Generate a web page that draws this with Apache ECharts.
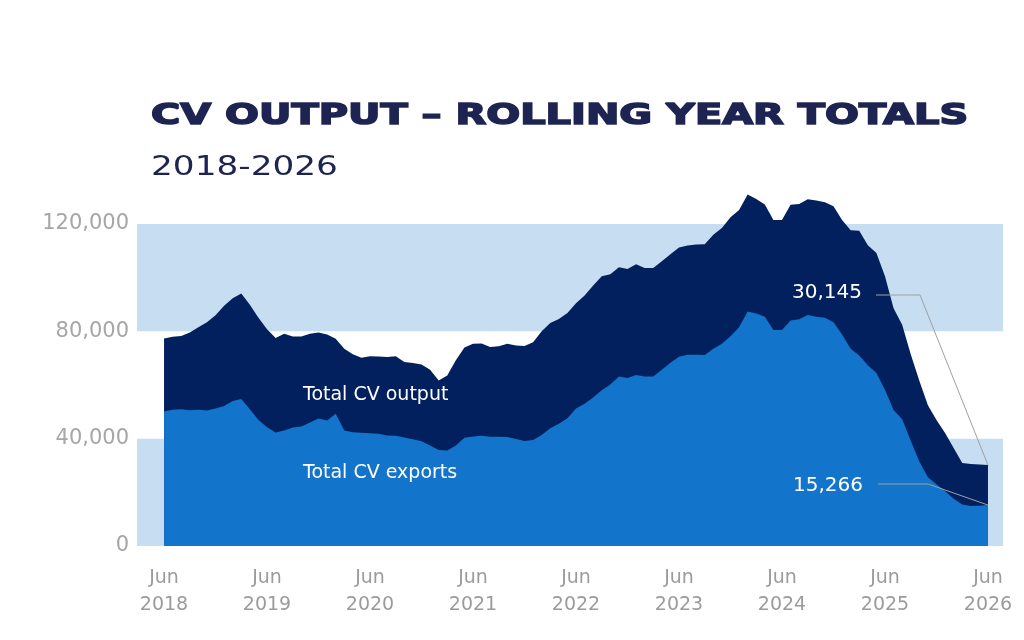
<!DOCTYPE html>
<html>
<head>
<meta charset="utf-8">
<script src="https://cdn.jsdelivr.net/npm/echarts@6/dist/echarts.min.js"></script>
<style>
  html, body { margin: 0; padding: 0; background: #ffffff; }
  #main { width: 1024px; height: 640px; }
</style>
</head>
<body>
<div id="main"></div>
<script>
// x ticks: one per year, each June
var tickMonth = "Jun";
var tickYears = [2018, 2019, 2020, 2021, 2022, 2023, 2024, 2025, 2026];

// rolling year totals, monthly Jun 2018 .. Jun 2026
var cvOutput = [
  77300, 78000, 78300, 79600, 81500, 83400, 86000, 89500, 92300, 94100,
  89900, 85100, 80800, 77500, 79100, 78100, 78100, 79100, 79600, 78800,
  77200, 73500, 71500, 70200, 70700, 70600, 70400, 70700, 68600, 68200,
  67600, 65700, 61700, 63500, 69200, 74000, 75400, 75500, 74200, 74400,
  75400, 74700, 74500, 75900, 80000, 83100, 84600, 86800, 90500, 93400,
  97100, 100500, 101300, 103900, 103200, 105000, 103600, 103600, 106100, 108700,
  111200, 112000, 112400, 112500, 116000, 118500, 122500, 125200, 131000, 129300,
  127300, 121500, 121500, 127200, 127500, 129200, 128800, 128100, 126600, 121500,
  117700, 117500, 112100, 109200, 100500, 88600, 82500, 71500, 61600, 52500,
  47000, 42100, 36500, 30900, 30600, 30400, 30145
];
var cvExports = [
  50100, 50800, 51000, 50600, 50800, 50500, 51200, 52200, 54000, 54800,
  51000, 47000, 44300, 42300, 43000, 44200, 44500, 46000, 47500, 46800,
  49300, 43000, 42400, 42200, 42000, 41800, 41200, 41100, 40400, 39800,
  39000, 37500, 35800, 35600, 37500, 40300, 40800, 41100, 40700, 40700,
  40600, 39900, 39100, 39500, 41400, 43900, 45600, 47600, 51200, 53000,
  55300, 58000, 60200, 63200, 62600, 63700, 63200, 63200, 65700, 68300,
  70500, 71300, 71300, 71200, 73500, 75400, 78200, 81500, 87400, 86600,
  85400, 80500, 80500, 84000, 84500, 86100, 85400, 85100, 83400, 78800,
  73500, 71000, 67400, 64500, 58200, 50700, 47200, 39200, 31500, 25600,
  23000, 20400, 17600, 15500, 14900, 15000, 15266
];

var navy = "#1e2452";
var font = '"DejaVu Sans", sans-serif';

function pairs(arr) {
  return arr.map(function (v, i) { return [i, v]; });
}

var tickIdx = tickYears.map(function (y, i) { return i * 12; });

var chart = echarts.init(document.getElementById("main"), null, { renderer: "canvas" });

var option = {
  backgroundColor: "#ffffff",
  animation: false,
  grid: {
    left: 137,
    right: 21,
    top: 224,
    bottom: 94,
  },
  xAxis: {
    type: "value",
    min: -3.15,
    max: 97.75,
    axisLine: { show: false },
    axisTick: { show: false },
    splitLine: { show: false },
    axisLabel: {
      customValues: tickIdx,
      margin: 19,
      color: "#9b9b9b",
      fontFamily: font,
      fontSize: 19,
      lineHeight: 27,
      formatter: function (v) {
        return tickMonth + "\n" + tickYears[Math.round(v / 12)];
      },
    },
  },
  yAxis: {
    type: "value",
    min: 0,
    max: 120000,
    interval: 40000,
    axisLine: { show: false },
    axisTick: { show: false },
    splitLine: { show: false },
    // light blue bands 0-40k and 80k-120k
    splitArea: {
      show: true,
      areaStyle: { color: ["#c6ddf2", "rgba(255,255,255,0)"] },
    },
    axisLabel: {
      margin: 8,
      color: "#a6a6a6",
      fontFamily: font,
      fontSize: 21,
      formatter: function (v) {
        return v.toLocaleString("en-US");
      },
    },
  },
  series: [
    {
      name: "Total CV output",
      type: "line",
      data: pairs(cvOutput),
      clip: false,
      showSymbol: false,
      lineStyle: { width: 0 },
      areaStyle: { color: "#02205e", opacity: 1 },
      z: 2,
    },
    {
      name: "Total CV exports",
      type: "line",
      data: pairs(cvExports),
      clip: false,
      showSymbol: false,
      lineStyle: { width: 0 },
      areaStyle: { color: "#1274ca", opacity: 1 },
      z: 3,
    },
  ],
};
chart.setOption(option);

// end-point callouts and titles
var last = cvOutput.length - 1;
var endOut = chart.convertToPixel({ gridIndex: 0 }, [last, cvOutput[last]]);
var endExp = chart.convertToPixel({ gridIndex: 0 }, [last, cvExports[last]]);

chart.setOption({
  graphic: [
    {
      type: "text",
      x: 151,
      y: 116,
      scaleX: 1.377,
      style: {
        text: "CV OUTPUT – ROLLING YEAR TOTALS",
        fontFamily: font,
        fontWeight: "bold",
        fontSize: 29,
        fill: navy,
        stroke: navy,
        lineWidth: 1.6,
        align: "left",
        verticalAlign: "middle",
      },
    },
    {
      type: "text",
      x: 151,
      y: 168,
      scaleX: 1.27,
      style: {
        text: "2018-2026",
        fontFamily: font,
        fontSize: 27,
        fill: navy,
        align: "left",
        verticalAlign: "middle",
      },
    },
    {
      type: "text",
      x: 303,
      y: 395,
      z: 10,
      style: {
        text: "Total CV output",
        fontFamily: font,
        fontSize: 19,
        fill: "#ffffff",
        verticalAlign: "middle",
      },
    },
    {
      type: "text",
      x: 303,
      y: 473,
      z: 10,
      style: {
        text: "Total CV exports",
        fontFamily: font,
        fontSize: 19,
        fill: "#ffffff",
        verticalAlign: "middle",
      },
    },
    {
      type: "polyline",
      z: 10,
      shape: { points: [[876, 295], [920, 295], endOut] },
      style: { stroke: "#a0a0a0", lineWidth: 1, fill: null },
    },
    {
      type: "polyline",
      z: 10,
      shape: { points: [[878, 484], [928, 484], endExp] },
      style: { stroke: "#a0a0a0", lineWidth: 1, fill: null },
    },
    {
      type: "text",
      x: 862,
      y: 293,
      z: 10,
      style: {
        text: cvOutput[last].toLocaleString("en-US"),
        fontFamily: font,
        fontSize: 20,
        fill: "#ffffff",
        align: "right",
        verticalAlign: "middle",
      },
    },
    {
      type: "text",
      x: 863,
      y: 486,
      z: 10,
      style: {
        text: cvExports[last].toLocaleString("en-US"),
        fontFamily: font,
        fontSize: 20,
        fill: "#ffffff",
        align: "right",
        verticalAlign: "middle",
      },
    },
  ],
});
</script>
</body>
</html>
